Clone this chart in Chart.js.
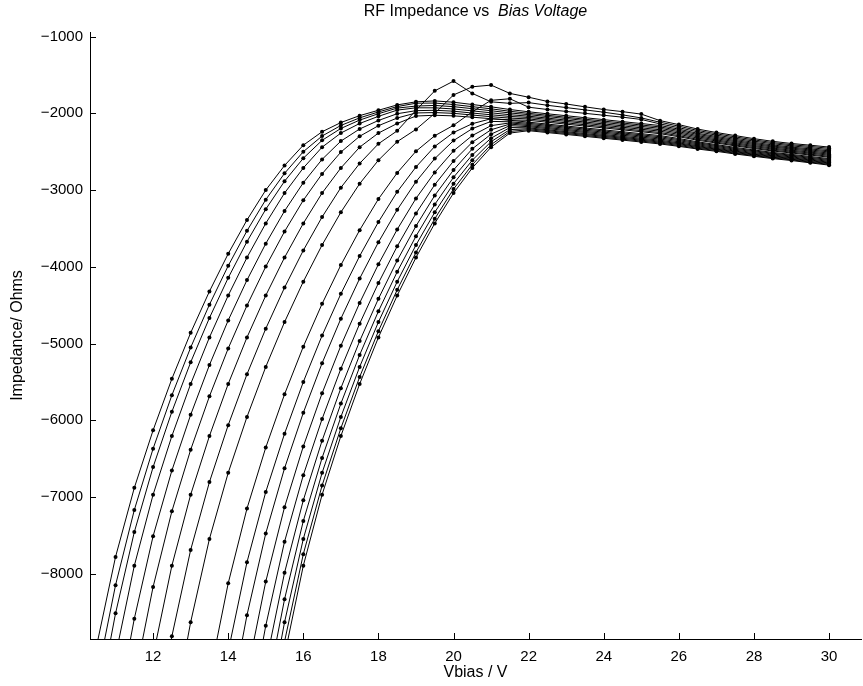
<!DOCTYPE html>
<html>
<head>
<meta charset="utf-8">
<script src="https://cdn.jsdelivr.net/npm/chart.js@4.4.1/dist/chart.umd.min.js"></script>
<style>
  html, body { margin: 0; padding: 0; background: #ffffff; }
  #wrap { width: 863px; height: 686px; position: relative; }
</style>
</head>
<body>
<div id="wrap"><canvas id="chart" width="863" height="686"></canvas></div>
<script>
// Bias voltage sweep (V), 0.5 V steps
const vbias = [10, 10.5, 11, 11.5, 12, 12.5, 13, 13.5, 14, 14.5, 15, 15.5, 16, 16.5, 17, 17.5,
  18, 18.5, 19, 19.5, 20, 20.5, 21, 21.5, 22, 22.5, 23, 23.5, 24, 24.5, 25, 25.5, 26, 26.5,
  27, 27.5, 28, 28.5, 29, 29.5, 30];

const xTicks = [12, 14, 16, 18, 20, 22, 24, 26, 28, 30];
const yTicks = [-8000, -7000, -6000, -5000, -4000, -3000, -2000, -1000];

// First bias point recorded for each sweep
const firstBias = [10.5, 10.5, 10.5, 11, 11, 11.5, 12, 12, 12.5, 13.5, 14, 14, 14.5, 14.5, 15, 15, 15, 15.5, 15.5];

// Impedance (Ohms) for each sweep, from its first bias point up to 30 V
const curve01 = [-8930, -7780, -6880, -6130, -5460, -4860, -4320, -3830, -3390, -3000, -2680, -2415, -2240, -2120, -2030, -1960, -1890, -1850, -1838, -1855, -1885, -1915, -1950,
  -1980, -2006, -2031, -2057, -2082, -2108, -2133, -2159, -2206, -2260, -2301, -2340, -2378, -2412, -2440, -2463, -2489];
const curve02 = [-9368, -8148, -7168, -6370, -5674, -5052, -4493, -3987, -3531, -3125, -2782, -2500, -2296, -2158, -2059, -1982, -1912, -1868, -1866, -1885, -1913, -1941, -1973,
  -2000, -2025, -2051, -2076, -2101, -2126, -2152, -2177, -2223, -2275, -2316, -2355, -2392, -2426, -2453, -2477, -2503];
const curve03 = [-9807, -8516, -7456, -6610, -5889, -5244, -4666, -4144, -3672, -3250, -2885, -2585, -2352, -2197, -2088, -2005, -1932, -1905, -1897, -1913, -1939, -1966, -1995,
  -2017, -2042, -2068, -2093, -2119, -2144, -2170, -2195, -2240, -2291, -2331, -2369, -2406, -2439, -2466, -2491, -2518];
const curve04 = [-9067, -7895, -6970, -6205, -5527, -4920, -4374, -3879, -3434, -3039, -2712, -2441, -2257, -2132, -2039, -1958, -1928, -1928, -1943, -1968, -1993, -2018,
  -2037, -2062, -2088, -2113, -2138, -2163, -2189, -2214, -2257, -2306, -2346, -2384, -2420, -2453, -2480, -2505, -2532];
const curve05 = [-9889, -8585, -7510, -6655, -5929, -5280, -4698, -4173, -3698, -3273, -2904, -2600, -2362, -2204, -2093, -2005, -1965, -1960, -1972, -1996, -2019, -2040,
  -2054, -2079, -2105, -2130, -2156, -2181, -2207, -2232, -2274, -2322, -2360, -2398, -2433, -2466, -2493, -2518, -2546];
const curve06 = [-9396, -8171, -7186, -6385, -5688, -5064, -4504, -3997, -3540, -3133, -2789, -2505, -2299, -2161, -2061, -1995, -1990, -2000, -2022, -2044, -2062,
  -2073, -2098, -2124, -2149, -2174, -2199, -2225, -2250, -2291, -2338, -2375, -2412, -2447, -2480, -2506, -2532, -2560];
const curve07 = [-9067, -7895, -6970, -6205, -5527, -4920, -4374, -3879, -3434, -3039, -2712, -2441, -2257, -2132, -2035, -2025, -2033, -2050, -2070, -2085,
  -2091, -2116, -2141, -2166, -2190, -2215, -2240, -2265, -2305, -2351, -2387, -2424, -2459, -2491, -2517, -2544, -2572];
const curve08 = [-10163, -8815, -7690, -6805, -6063, -5400, -4806, -4271, -3786, -3351, -2968, -2653, -2397, -2228, -1960, -1707, -1580, -1740, -1850, -1870,
  -1860, -1895, -1925, -1955, -1985, -2020, -2060, -2116, -2167, -2223, -2267, -2307, -2346, -2381, -2409, -2431, -2456];
const curve09 = [-9944, -8631, -7546, -6685, -5956, -5304, -4720, -4193, -3716, -3289, -2917, -2611, -2369, -2209, -2000, -1760, -1654, -1632, -1740,
  -1790, -1845, -1878, -1915, -1950, -1978, -2010, -2095, -2147, -2205, -2250, -2290, -2330, -2365, -2393, -2415, -2440];
const curve10 = [-9341, -8125, -7150, -6355, -5661, -5040, -4482, -3977, -3522, -3117, -2776, -2494, -2292, -2156, -1980, -1830, -1810,
  -1920, -1950, -1975, -2000, -2025, -2050, -2080, -2138, -2187, -2241, -2284, -2324, -2362, -2396, -2424, -2447, -2473];
const curve11 = [-9012, -7849, -6934, -6175, -5500, -4896, -4352, -3859, -3416, -3023, -2699, -2431, -2250, -2135, -2070, -2090,
  -2115, -2140, -2165, -2190, -2215, -2240, -2265, -2290, -2328, -2371, -2407, -2444, -2477, -2509, -2535, -2562, -2590];
const curve12 = [-9834, -8539, -7474, -6625, -5902, -5256, -4676, -4153, -3680, -3257, -2891, -2590, -2355, -2199, -2105, -2110,
  -2130, -2155, -2180, -2205, -2230, -2255, -2280, -2305, -2342, -2384, -2419, -2456, -2489, -2520, -2546, -2574, -2602];
const curve13 = [-9314, -8102, -7132, -6340, -5648, -5028, -4471, -3967, -3513, -3109, -2770, -2489, -2289, -2160, -2125,
  -2145, -2170, -2195, -2220, -2245, -2270, -2295, -2320, -2356, -2397, -2431, -2468, -2500, -2531, -2557, -2585, -2614];
const curve14 = [-9999, -8677, -7582, -6715, -5983, -5328, -4741, -4212, -3733, -3304, -2930, -2622, -2376, -2214, -2140,
  -2160, -2185, -2210, -2235, -2260, -2285, -2310, -2335, -2371, -2410, -2444, -2480, -2512, -2543, -2568, -2597, -2626];
const curve15 = [-9177, -7987, -7042, -6265, -5581, -4968, -4417, -3918, -3469, -3070, -2738, -2463, -2271, -2160,
  -2174, -2199, -2224, -2249, -2275, -2300, -2325, -2350, -2385, -2423, -2456, -2492, -2523, -2554, -2579, -2608, -2637];
const curve16 = [-9588, -8332, -7312, -6490, -5782, -5148, -4579, -4065, -3601, -3187, -2834, -2542, -2324, -2185,
  -2189, -2214, -2239, -2264, -2288, -2313, -2338, -2363, -2396, -2434, -2466, -2501, -2532, -2563, -2588, -2617, -2647];
const curve17 = [-9944, -8631, -7546, -6685, -5956, -5304, -4720, -4193, -3716, -3289, -2917, -2611, -2369, -2212,
  -2201, -2226, -2251, -2276, -2300, -2325, -2350, -2375, -2407, -2444, -2475, -2511, -2542, -2572, -2597, -2627, -2656];
const curve18 = [-8884, -7744, -6850, -6103, -5436, -4838, -4300, -3812, -3374, -2987, -2669, -2408, -2235,
  -2214, -2239, -2263, -2288, -2313, -2337, -2362, -2387, -2419, -2455, -2485, -2520, -2551, -2581, -2606, -2636, -2666];
const curve19 = [-9067, -7895, -6970, -6205, -5527, -4920, -4374, -3879, -3434, -3039, -2712, -2441, -2257,
  -2226, -2251, -2275, -2300, -2325, -2349, -2374, -2399, -2430, -2465, -2495, -2530, -2560, -2590, -2615, -2645, -2675];

const curves = [curve01, curve02, curve03, curve04, curve05, curve06, curve07, curve08, curve09, curve10,
  curve11, curve12, curve13, curve14, curve15, curve16, curve17, curve18, curve19];

const FONT = "'Liberation Sans', Arial, Helvetica, sans-serif";

const datasets = curves.map((vals, k) => {
  const i0 = vbias.indexOf(firstBias[k]);
  return {
    data: vals.map((y, i) => ({ x: vbias[i0 + i], y })),
    borderColor: '#000000',
    borderWidth: 1,
    pointRadius: 2,
    pointBackgroundColor: '#000000',
    pointBorderWidth: 0,
    pointHoverRadius: 2,
    tension: 0,
    fill: false
  };
});

// Short tick marks drawn on the inner side of both axes
const innerTicks = {
  id: 'innerTicks',
  afterDraw(chart) {
    const { ctx, chartArea, scales: { x, y } } = chart;
    ctx.save();
    ctx.strokeStyle = '#000000';
    ctx.lineWidth = 1;
    x.ticks.forEach(t => {
      const px = Math.round(x.getPixelForValue(t.value)) + 0.5;
      ctx.beginPath();
      ctx.moveTo(px, chartArea.bottom);
      ctx.lineTo(px, chartArea.bottom - 6);
      ctx.stroke();
    });
    y.ticks.forEach(t => {
      const py = Math.round(y.getPixelForValue(t.value)) + 0.5;
      ctx.beginPath();
      ctx.moveTo(chartArea.left, py);
      ctx.lineTo(chartArea.left + 6, py);
      ctx.stroke();
    });
    ctx.restore();
  }
};

// Title (with italic part) and axis labels
const labels = {
  id: 'labels',
  afterDraw(chart) {
    const { ctx, chartArea } = chart;
    const cx = (chartArea.left + chartArea.right) / 2;
    ctx.save();
    ctx.fillStyle = '#000000';
    ctx.textBaseline = 'middle';

    const partA = 'RF Impedance vs  ';
    const partB = 'Bias Voltage';
    ctx.font = `16px ${FONT}`;
    const wA = ctx.measureText(partA).width;
    ctx.font = `italic 16px ${FONT}`;
    const wB = ctx.measureText(partB).width;
    const x0 = cx - (wA + wB) / 2;
    ctx.textAlign = 'left';
    ctx.font = `16px ${FONT}`;
    ctx.fillText(partA, x0, 12);
    ctx.font = `italic 16px ${FONT}`;
    ctx.fillText(partB, x0 + wA, 12);

    ctx.font = `16px ${FONT}`;
    ctx.textAlign = 'center';
    ctx.fillText('Vbias / V', cx, 673);

    ctx.translate(18, (chartArea.top + chartArea.bottom) / 2);
    ctx.rotate(-Math.PI / 2);
    ctx.fillText('Impedance/ Ohms', 0, 0);
    ctx.restore();
  }
};

new Chart(document.getElementById('chart'), {
  type: 'line',
  data: { datasets },
  options: {
    responsive: false,
    animation: false,
    devicePixelRatio: 1,
    layout: { padding: { top: 32, right: 0, bottom: 0, left: 0 } },
    plugins: {
      legend: { display: false },
      title: { display: false },
      tooltip: { enabled: false }
    },
    scales: {
      x: {
        type: 'linear',
        min: 10.32,
        max: 30.85,
        afterBuildTicks: s => { s.ticks = xTicks.map(v => ({ value: v })); },
        afterFit: s => { s.height = 47; },
        ticks: {
          color: '#000000',
          font: { family: FONT, size: 15 },
          padding: 9,
          maxRotation: 0,
          autoSkip: false
        },
        grid: { display: true, drawOnChartArea: false, drawTicks: false },
        border: { display: true, color: '#000000', width: 1 }
      },
      y: {
        type: 'linear',
        min: -8850,
        max: -940,
        afterBuildTicks: s => { s.ticks = yTicks.map(v => ({ value: v })); },
        afterFit: s => { s.width = 90; },
        ticks: {
          color: '#000000',
          font: { family: FONT, size: 15 },
          padding: 7,
          autoSkip: false,
          callback: v => '\u2212' + Math.abs(v)
        },
        grid: { display: true, drawOnChartArea: false, drawTicks: false },
        border: { display: true, color: '#000000', width: 1 }
      }
    }
  },
  plugins: [innerTicks, labels]
});
</script>
</body>
</html>
